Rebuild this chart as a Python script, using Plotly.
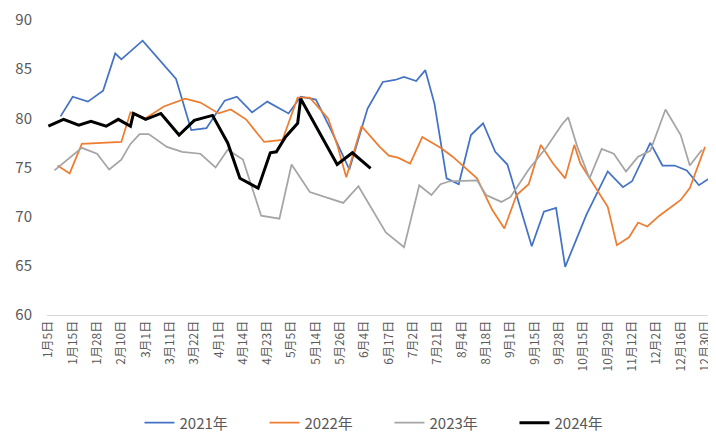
import plotly.graph_objects as go

# Labelled dates on the category axis (every 8th slot is labelled)
tick_labels = ["1月5日", "1月15日", "1月28日", "2月10日", "3月1日", "3月11日", "3月22日",
               "4月1日", "4月14日", "4月23日", "5月5日", "5月14日", "5月26日", "6月4日",
               "6月17日", "7月2日", "7月21日", "8月4日", "8月18日", "9月1日", "9月15日",
               "9月28日", "10月15日", "10月29日", "11月12日", "12月2日", "12月16日", "12月30日"]
SLOTS_PER_LABEL = 8

# Category slots (date positions) and values for each year
x2021 = [4, 8, 13, 18, 22, 24, 31, 42, 47, 52, 58, 62, 67, 72, 79, 83, 88, 93, 99, 105,
         110, 114, 117, 121, 124, 127, 131, 135, 139, 143, 147, 151, 159, 163, 167, 170,
         177, 184, 189, 192, 198, 202, 206, 210, 214, 218]
y2021 = [80.2, 82.2, 81.7, 82.8, 86.6, 86.0, 87.9, 84.0, 78.8, 79.0, 81.8, 82.2, 80.6, 81.7,
         80.5, 82.2, 81.9, 78.8, 74.8, 81.0, 83.7, 83.9, 84.2, 83.8, 84.9, 81.5, 73.9, 73.3,
         78.3, 79.5, 76.6, 75.3, 67.0, 70.5, 70.9, 64.9, 70.2, 74.6, 73.0, 73.6, 77.5, 75.2,
         75.2, 74.7, 73.2, 74.0]

x2022 = [3, 7, 11, 24, 27, 32, 38, 45, 50, 56, 60, 65, 71, 77, 82, 86, 92, 95, 98, 103,
         109, 112, 115, 119, 123, 129, 133, 141, 146, 150, 154, 158, 162, 166, 170, 173,
         175, 178, 184, 187, 191, 194, 197, 201, 208, 211, 216]
y2022 = [75.2, 74.4, 77.4, 77.6, 80.6, 80.0, 81.2, 82.0, 81.6, 80.5, 80.9, 79.9, 77.6, 77.8,
         82.1, 82.1, 80.0, 77.3, 74.0, 79.2, 77.1, 76.2, 76.0, 75.4, 78.1, 77.0, 76.1, 73.9,
         70.7, 68.8, 72.2, 73.3, 77.3, 75.4, 73.9, 77.3, 75.4, 73.9, 71.0, 67.1, 67.9, 69.4,
         69.0, 70.1, 71.7, 72.9, 77.1]

x2023 = [2, 11, 16, 20, 24, 27, 30, 33, 39, 44, 50, 55, 59, 64, 70, 76, 80, 86, 97, 102,
         111, 117, 122, 126, 129, 132, 141, 144, 149, 152, 158, 164, 169, 171, 174, 178,
         182, 186, 190, 194, 198, 203, 208, 211, 215]
y2023 = [74.7, 77.0, 76.4, 74.8, 75.8, 77.4, 78.4, 78.4, 77.1, 76.6, 76.4, 75.0, 76.8, 75.8,
         70.1, 69.8, 75.3, 72.5, 71.4, 73.1, 68.4, 66.9, 73.2, 72.2, 73.3, 73.6, 73.7, 72.2,
         71.5, 72.0, 74.8, 77.1, 79.4, 80.1, 77.1, 73.9, 76.9, 76.4, 74.6, 76.1, 76.7, 80.9,
         78.3, 75.2, 76.8]

x2024 = [0, 5, 10, 14, 19, 23, 27, 28, 32, 37, 43, 48, 54, 59, 63, 69, 73, 75, 78, 82, 83,
         95, 100, 106]
y2024 = [79.2, 79.9, 79.3, 79.7, 79.2, 79.9, 79.2, 80.5, 79.9, 80.5, 78.3, 79.8, 80.3, 77.5,
         73.9, 72.9, 76.5, 76.6, 78.1, 79.5, 82.0, 75.3, 76.5, 74.9]

series = [
    ("2021年", x2021, y2021, "#4472C4", 1.75),
    ("2022年", x2022, y2022, "#ED7D31", 1.75),
    ("2023年", x2023, y2023, "#A5A5A5", 1.75),
    ("2024年", x2024, y2024, "#000000", 3),
]

fig = go.Figure()
for name, xs, ys, color, width in series:
    fig.add_trace(go.Scatter(x=xs, y=ys, name=name, mode="lines",
                             line=dict(color=color, width=width)))

tickvals = [i * SLOTS_PER_LABEL for i in range(len(tick_labels))]

# The page body adds an 8px offset, so margins are trimmed accordingly
fig.update_layout(
    width=716, height=432,
    margin=dict(l=39, r=12, t=12, b=125, autoexpand=False),
    plot_bgcolor="white", paper_bgcolor="white",
    font=dict(family="Noto Sans CJK SC, Noto Sans, sans-serif", color="#595959"),
    legend=dict(orientation="h", x=0.515, xanchor="center", y=-0.366, yanchor="middle",
                font=dict(size=15), entrywidth=80, entrywidthmode="pixels"),
)
fig.update_xaxes(
    range=[-0.45, 218.3], tickvals=tickvals, ticktext=tick_labels, tickangle=-90,
    tickfont=dict(size=12), showgrid=False, zeroline=False, automargin=False,
    showline=True, linecolor="#D9D9D9", linewidth=1, ticks="",
)
fig.update_yaxes(
    range=[60, 90], dtick=5, tickfont=dict(size=15), showgrid=False, zeroline=False,
    showline=False, ticks="", ticklabelstandoff=14, automargin=False,
)

fig.write_html("out.html")
